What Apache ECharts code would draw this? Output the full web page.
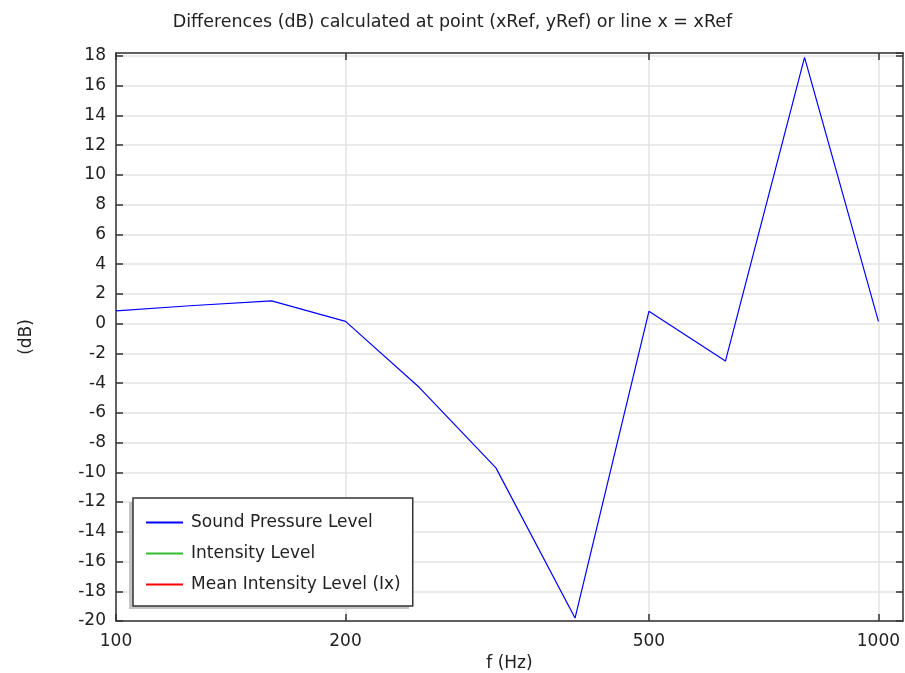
<!DOCTYPE html>
<html>
<head>
<meta charset="utf-8">
<script src="https://cdn.jsdelivr.net/npm/echarts@6/dist/echarts.min.js"></script>
<style>
  html, body { margin: 0; padding: 0; background: #fff; }
  #chart { width: 905px; height: 673px; }
</style>
</head>
<body>
<div id="chart"></div>
<script>
// Third-octave band centre frequencies (Hz)
const frequencies = [100, 125, 160, 200, 250, 315, 400, 500, 630, 800, 1000];
// Level differences (dB) per band
const soundPressureLevel = [0.86, 1.2, 1.53, 0.15, -4.3, -9.7, -19.8, 0.83, -2.52, 17.9, 0.15];
const intensityLevel = [];
const meanIntensityLevel = [];
// Labelled frequency ticks
const xTickValues = [100, 200, 500, 1000];

const seriesNames = ['Sound Pressure Level', 'Intensity Level', 'Mean Intensity Level (Ix)'];
const seriesColors = ['#0000ff', '#33bb33', '#ff0000'];
const seriesValues = [soundPressureLevel, intensityLevel, meanIntensityLevel];

const FONT = 'DejaVu Sans';
const TEXT = '#222';
const AXIS = '#333';
const FS = 17;

const chart = echarts.init(document.getElementById('chart'), null, { renderer: 'canvas' });

const option = {
  animation: false,
  backgroundColor: '#fff',
  textStyle: { fontFamily: FONT, color: TEXT },
  title: {
    text: 'Differences (dB) calculated at point (xRef, yRef) or line x = xRef',
    left: 'center',
    top: 8,
    textStyle: { fontFamily: FONT, fontSize: 17.5, fontWeight: 'normal', color: TEXT }
  },
  grid: { left: 116, right: 2, top: 53, bottom: 52, containLabel: false, outerBoundsMode: 'none' },
  // drop shadow behind the legend box
  graphic: [{
    type: 'rect',
    left: 129,
    top: 502,
    shape: { width: 280, height: 107 },
    style: { fill: '#c4c4c4' },
    z: 3,
    silent: true
  }],
  legend: {
    orient: 'vertical',
    left: 133,
    top: 498,
    z: 5,
    padding: [16, 12, 13, 13],
    itemGap: 14,
    itemWidth: 37,
    itemHeight: 2,
    icon: 'rect',
    backgroundColor: '#fff',
    borderColor: AXIS,
    borderWidth: 1.5,
    textStyle: { fontFamily: FONT, fontSize: FS, color: TEXT, lineHeight: 16, padding: [0, 0, 0, 3] },
    data: seriesNames.map((n, i) => ({ name: n, itemStyle: { color: seriesColors[i] } }))
  },
  xAxis: [
    {
      type: 'log',
      logBase: 10,
      min: 100,
      max: 1077,
      name: 'f (Hz)',
      nameLocation: 'middle',
      nameGap: 33,
      nameTextStyle: { fontFamily: FONT, fontSize: FS, color: TEXT },
      axisLine: { show: true, onZero: false, lineStyle: { color: AXIS, width: 1.5 } },
      axisTick: { show: true, inside: true, length: 7, customValues: xTickValues, lineStyle: { color: AXIS, width: 1.5 } },
      minorTick: { show: false },
      axisLabel: {
        customValues: xTickValues,
        fontFamily: FONT, fontSize: FS, color: TEXT, margin: 12,
        formatter: v => String(Math.round(v))
      },
      splitLine: { show: true, lineStyle: { color: '#e3e3e3', width: 1.5 } }
    },
    {
      type: 'log',
      logBase: 10,
      min: 100,
      max: 1077,
      position: 'top',
      axisLine: { show: true, onZero: false, lineStyle: { color: AXIS, width: 1.5 } },
      axisTick: { show: true, inside: true, length: 7, customValues: xTickValues, lineStyle: { color: AXIS, width: 1.5 } },
      axisLabel: { show: false },
      splitLine: { show: false }
    }
  ],
  yAxis: [
    {
      type: 'value',
      min: -20,
      max: 18.2,
      interval: 2,
      name: '(dB)',
      nameLocation: 'middle',
      nameGap: 81,
      nameRotate: 90,
      nameTextStyle: { fontFamily: FONT, fontSize: FS, color: TEXT },
      axisLine: { show: true, onZero: false, lineStyle: { color: AXIS, width: 1.5 } },
      axisTick: { show: true, inside: true, length: 7, lineStyle: { color: AXIS, width: 1.5 } },
      axisLabel: { fontFamily: FONT, fontSize: FS, color: TEXT, margin: 10, showMaxLabel: false },
      splitLine: { show: true, lineStyle: { color: '#e3e3e3', width: 1.5 } }
    },
    {
      type: 'value',
      min: -20,
      max: 18.2,
      interval: 2,
      position: 'right',
      axisLine: { show: true, onZero: false, lineStyle: { color: AXIS, width: 1.5 } },
      axisTick: { show: true, inside: true, length: 7, lineStyle: { color: AXIS, width: 1.5 } },
      axisLabel: { show: false },
      splitLine: { show: false }
    }
  ],
  series: seriesNames.map((name, i) => ({
    name: name,
    type: 'line',
    xAxisIndex: 0,
    yAxisIndex: 0,
    showSymbol: false,
    symbol: 'none',
    color: seriesColors[i],
    lineStyle: { color: seriesColors[i], width: 1.2 },
    data: frequencies.slice(0, seriesValues[i].length).map((f, k) => [f, seriesValues[i][k]])
  }))
};

chart.setOption(option);
</script>
</body>
</html>
